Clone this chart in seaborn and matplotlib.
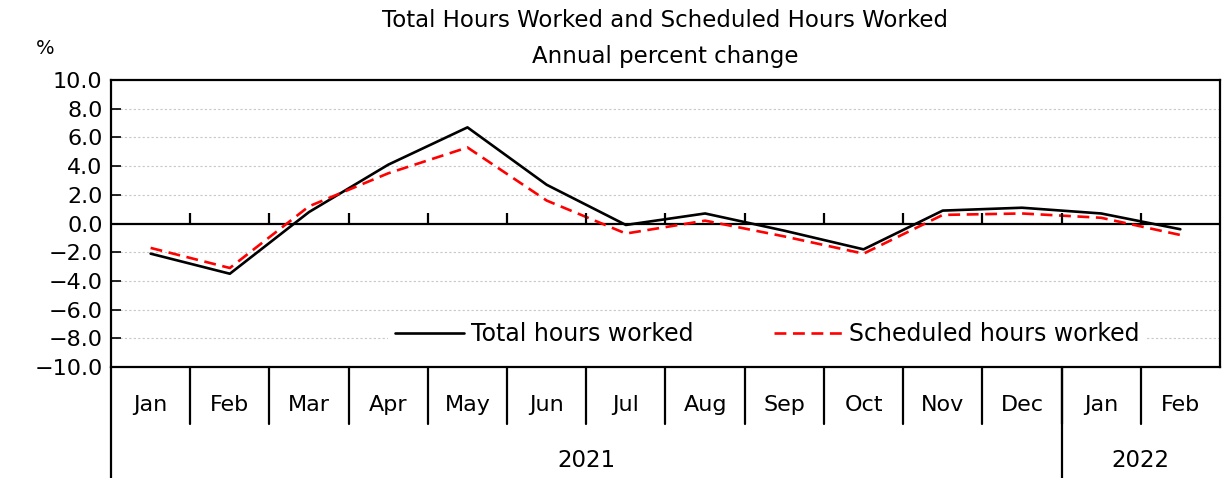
import numpy as np
import pandas as pd
import matplotlib
matplotlib.use("Agg")
import matplotlib.pyplot as plt
import seaborn as sns

months = ["Jan", "Feb", "Mar", "Apr", "May", "Jun", "Jul",
          "Aug", "Sep", "Oct", "Nov", "Dec", "Jan", "Feb"]
years = ["2021", "2022"]
year_counts = [12, 2]
total_hours = [-2.1, -3.5, 0.8, 4.1, 6.7, 2.7, -0.1, 0.7, -0.5, -1.8, 0.9, 1.1, 0.7, -0.4]
scheduled_hours = [-1.7, -3.1, 1.2, 3.5, 5.3, 1.6, -0.7, 0.2, -0.9, -2.1, 0.6, 0.7, 0.4, -0.8]
yticks = [-10, -8, -6, -4, -2, 0, 2, 4, 6, 8, 10]


def main():
    sns.set_style("white")
    plt.rcParams["font.family"] = ["DejaVu Sans"]
    plt.rcParams["text.color"] = "black"

    df = pd.DataFrame({
        "idx": np.arange(len(months)),
        "total": total_hours,
        "scheduled": scheduled_hours,
    })

    fig = plt.figure(figsize=(12.24, 4.78), dpi=100)
    ax = fig.add_axes([0.0907, 0.2322, 0.906, 0.6004])

    sns.lineplot(data=df, x="idx", y="total", ax=ax, color="black",
                 linewidth=1.9, label="Total hours worked")
    sns.lineplot(data=df, x="idx", y="scheduled", ax=ax, color="red",
                 linewidth=1.9, label="Scheduled hours worked")
    ax.lines[1].set_dashes([4.5, 2.5])

    ax.set_xlim(-0.5, len(months) - 0.5)
    ax.set_ylim(-10, 10)
    ax.set_yticks(yticks)
    ax.set_yticklabels([f"{v:.1f}".replace("-", "\u2212") for v in yticks],
                       fontsize=16, color="black")
    ax.set_xticks([])
    ax.set_xlabel("")
    ax.set_ylabel("")
    ax.tick_params(axis="y", direction="in", length=7, width=1.2, pad=6,
                   left=True, colors="black")

    for v in yticks:
        if v not in (-10, 0, 10):
            ax.axhline(v, color="#c8c8c8", linewidth=0.8,
                       linestyle=(0, (2, 2)), zorder=0)
    ax.axhline(0, color="black", linewidth=1.6, zorder=1)
    bounds = np.arange(0.5, len(months) - 0.5, 1.0)
    ax.vlines(bounds, 0, 0.7, color="black", linewidth=1.6)

    for s in ax.spines.values():
        s.set_color("black")
        s.set_linewidth(1.6)

    # category rows below the plot
    tr = ax.get_xaxis_transform()
    for i, m in enumerate(months):
        ax.text(i, -0.132, m, transform=tr, ha="center", va="center",
                fontsize=16, color="black")
    for b in bounds:
        ax.plot([b, b], [0, -0.20], transform=tr, color="black",
                linewidth=1.6, clip_on=False)
    ax.plot([-0.5, -0.5], [0, -0.39], transform=tr, color="black",
            linewidth=1.6, clip_on=False)
    start = -0.5
    for y, n in zip(years, year_counts):
        ax.text(start + n / 2, -0.3275, y, transform=tr, ha="center",
                va="center", fontsize=16.5, color="black")
        start += n
        if start < len(months) - 0.5:
            ax.plot([start, start], [0, -0.39], transform=tr, color="black",
                    linewidth=1.6, clip_on=False)

    leg = ax.legend(loc="center", bbox_to_anchor=(0.592, 0.115), ncol=2,
                    fontsize=17, frameon=True, handlelength=2.9,
                    columnspacing=3.4, handletextpad=0.3, borderpad=0.3)
    leg.get_frame().set_linewidth(0)
    leg.get_frame().set_facecolor("white")
    leg.get_frame().set_alpha(1)
    for t in leg.get_texts():
        t.set_color("black")

    ax.set_title("Total Hours Worked and Scheduled Hours Worked\nAnnual percent change",
                 fontsize=16.5, pad=12, linespacing=1.75, color="black")
    fig.text(0.037, 0.898, "%", fontsize=14, ha="center", va="center")

    fig.savefig("out.png", dpi=100)


if __name__ == "__main__":
    main()
